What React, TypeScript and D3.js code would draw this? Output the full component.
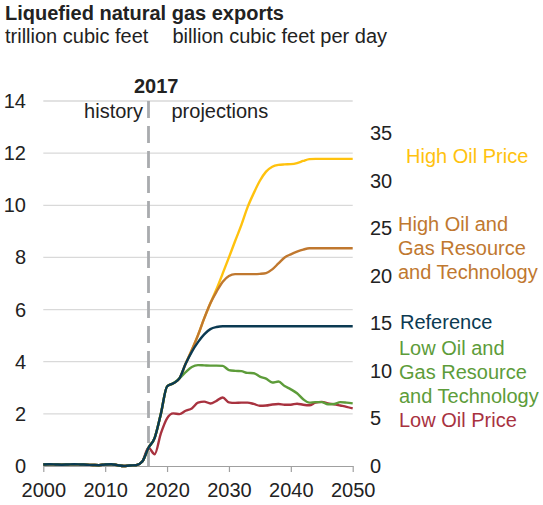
import { useEffect, useRef } from "react";
import * as d3 from "d3";

// years 2000-2017 are history, shared by every case
const historyYears: number[] = [
  2000, 2001, 2002, 2003, 2004, 2005, 2006, 2007, 2008, 2009, 2010, 2011, 2012, 2013, 2014, 2015, 2016, 2017,
];
const historyValues: number[] = [
  0.06, 0.07, 0.06, 0.05, 0.06, 0.07, 0.06, 0.05, 0.04, 0.03, 0.06, 0.07, 0.03, 0.0, 0.02, 0.03, 0.17, 0.7,
];

const projectionYears: number[] = [
  2018, 2019, 2020, 2021, 2022, 2023, 2024, 2025, 2026, 2027, 2028, 2029, 2030, 2031, 2032, 2033, 2034, 2035,
  2036, 2037, 2038, 2039, 2040, 2041, 2042, 2043, 2044, 2045, 2046, 2047, 2048, 2049, 2050,
];

const highOilPrice: number[] = [
  1.08, 2.0, 3.05, 3.17, 3.36, 3.92, 4.45, 5.02, 5.66, 6.24, 6.79, 7.39, 8.0, 8.63, 9.24, 9.92, 10.46, 10.94,
  11.29, 11.48, 11.55, 11.57, 11.58, 11.62, 11.7, 11.77, 11.78, 11.78, 11.78, 11.78, 11.78, 11.78, 11.78,
];
const highOilGas: number[] = [
  1.08, 2.0, 3.05, 3.17, 3.36, 3.92, 4.45, 5.02, 5.66, 6.24, 6.69, 7.07, 7.29, 7.36, 7.36, 7.36, 7.36, 7.37,
  7.4, 7.54, 7.77, 8.0, 8.12, 8.22, 8.3, 8.35, 8.35, 8.35, 8.35, 8.35, 8.35, 8.35, 8.35,
];
const reference: number[] = [
  1.08, 2.0, 3.05, 3.17, 3.36, 3.92, 4.38, 4.75, 5.05, 5.25, 5.33, 5.36, 5.36, 5.36, 5.36, 5.36, 5.36, 5.36,
  5.36, 5.36, 5.36, 5.36, 5.36, 5.36, 5.36, 5.36, 5.36, 5.36, 5.36, 5.36, 5.36, 5.36, 5.36,
];
const lowOilGas: number[] = [
  1.08, 2.0, 3.05, 3.17, 3.36, 3.6, 3.8, 3.87, 3.86, 3.85, 3.85, 3.84, 3.68, 3.65, 3.64, 3.57, 3.56, 3.43,
  3.35, 3.2, 3.24, 3.07, 2.94, 2.79, 2.56, 2.43, 2.45, 2.45, 2.37, 2.38, 2.45, 2.43, 2.4,
];
const lowOilPrice: number[] = [
  0.45, 1.25, 1.83, 2.02, 1.99, 2.12, 2.21, 2.43, 2.47, 2.4, 2.5, 2.63, 2.44, 2.42, 2.43, 2.43, 2.38, 2.31,
  2.32, 2.36, 2.38, 2.35, 2.35, 2.39, 2.35, 2.33, 2.43, 2.46, 2.4, 2.37, 2.32, 2.27, 2.21,
];

const leftTicks: number[] = [0, 2, 4, 6, 8, 10, 12, 14];
const rightTicks: number[] = [0, 5, 10, 15, 20, 25, 30, 35];
const yearTicks: number[] = [2000, 2010, 2020, 2030, 2040, 2050];

type Series = { name: string[]; values: number[]; color: string; labelX: number; labelY: number };

// drawing order: last one ends up on top
const series: Series[] = [
  { name: ["High Oil Price"], values: highOilPrice, color: "#ffc20e", labelX: 406, labelY: 163 },
  { name: ["High Oil and", "Gas Resource", "and Technology"], values: highOilGas, color: "#c0782f", labelX: 398, labelY: 231 },
  { name: ["Low Oil Price"], values: lowOilPrice, color: "#a8323f", labelX: 399, labelY: 427 },
  { name: ["Low Oil and", "Gas Resource", "and Technology"], values: lowOilGas, color: "#5d9c3a", labelX: 399, labelY: 355 },
  { name: ["Reference"], values: reference, color: "#0b3a52", labelX: 400, labelY: 329 },
];

const FONT = "'Liberation Sans', Arial, sans-serif";
const TEXT = "#222";

function LngChart() {
  const svgRef = useRef<SVGSVGElement>(null);

  useEffect(() => {
    if (!svgRef.current) return;
    const svg = d3.select(svgRef.current);
    svg.selectAll("*").remove();

    const width = 543;
    const height = 505;
    svg.attr("width", width).attr("height", height);

    const x = d3.scaleLinear().domain([2000, 2050]).range([43.3, 352.7]);
    const y = d3.scaleLinear().domain([0, 14]).range([466, 101]);
    // bcf per day on the right, same physical quantity
    const yRight = d3.scaleLinear().domain([0, (14 * 1000) / 365]).range([466, 101]);

    // gridlines
    svg
      .append("g")
      .selectAll("line")
      .data(leftTicks.filter((d) => d > 0))
      .join("line")
      .attr("x1", x(2000))
      .attr("x2", x(2050))
      .attr("y1", (d) => y(d))
      .attr("y2", (d) => y(d))
      .attr("stroke", "#d9d9d9")
      .attr("stroke-width", 1.3);

    // left tick labels
    svg
      .append("g")
      .selectAll("text")
      .data(leftTicks)
      .join("text")
      .attr("x", 26)
      .attr("y", (d) => y(d) + 7)
      .attr("text-anchor", "end")
      .text((d) => d);

    // right tick labels
    svg
      .append("g")
      .selectAll("text")
      .data(rightTicks)
      .join("text")
      .attr("x", 370)
      .attr("y", (d) => yRight(d) + 7)
      .text((d) => d);

    // x axis
    const xg = svg.append("g").attr("transform", `translate(0,${y(0)})`);
    xg.call(d3.axisBottom(x).tickValues(yearTicks).tickFormat(d3.format("d")).tickSize(6).tickSizeOuter(0).tickPadding(11));
    xg.select(".domain").attr("stroke", "#a0a0a0").attr("stroke-width", 1.2);
    xg.selectAll(".tick line").attr("stroke", "#a0a0a0").attr("stroke-width", 1.2);
    xg.selectAll(".tick text").attr("font-size", 20).attr("font-family", FONT).attr("fill", TEXT);

    // 2017 divider
    svg
      .append("line")
      .attr("x1", x(2017))
      .attr("x2", x(2017))
      .attr("y1", y(14))
      .attr("y2", y(0))
      .attr("stroke", "#a9abae")
      .attr("stroke-width", 2.8)
      .attr("stroke-dasharray", "17,8");

    svg.append("text").attr("x", 134).attr("y", 93).attr("font-weight", "bold").text("2017");
    svg.append("text").attr("x", 143).attr("y", 118).attr("text-anchor", "end").text("history");
    svg.append("text").attr("x", 171.5).attr("y", 118).text("projections");

    // lines
    const line = d3
      .line<[number, number]>()
      .x((d) => x(d[0]))
      .y((d) => y(d[1]))
      .curve(d3.curveMonotoneX);

    const history: [number, number][] = historyYears.map((yr, i) => [yr, historyValues[i]]);

    series.forEach((s) => {
      const pts: [number, number][] = history.concat(projectionYears.map((yr, i) => [yr, s.values[i]] as [number, number]));
      svg
        .append("path")
        .attr("d", line(pts))
        .attr("fill", "none")
        .attr("stroke", s.color)
        .attr("stroke-width", 2.4)
        .attr("stroke-linejoin", "round");

      const t = svg.append("text").attr("fill", s.color);
      s.name.forEach((n, i) => {
        t.append("tspan").attr("x", s.labelX).attr("y", s.labelY + i * 24).text(n);
      });
    });

    // titles
    svg.append("text").attr("x", 5).attr("y", 20).attr("font-weight", "bold").text("Liquefied natural gas exports");
    svg.append("text").attr("x", 5).attr("y", 43).text("trillion cubic feet");
    svg.append("text").attr("x", 172.5).attr("y", 43).text("billion cubic feet per day");

    svg.selectAll<SVGTextElement, unknown>("text").each(function () {
      const el = d3.select(this);
      if (!el.attr("font-size")) el.attr("font-size", 20);
      if (!el.attr("font-family")) el.attr("font-family", FONT);
      if (!el.attr("fill")) el.attr("fill", TEXT);
    });
  }, []);

  return <svg ref={svgRef} style={{ position: "absolute", left: 0, top: 0 }}></svg>;
}

export default function App() {
  return <LngChart />;
}
